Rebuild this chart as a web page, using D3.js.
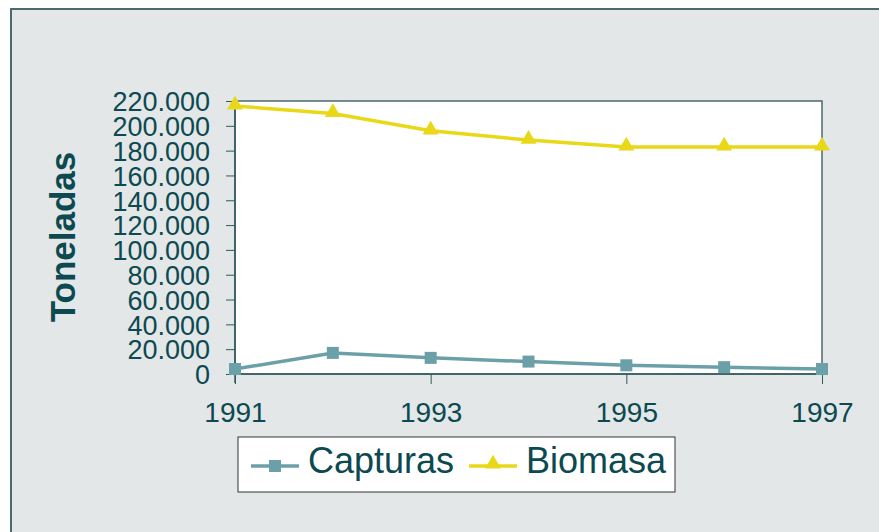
<!DOCTYPE html>
<html>
<head>
<meta charset="utf-8">
<script src="https://cdn.jsdelivr.net/npm/d3@7"></script>
<style>
  body { margin: 0; background: #fff; }
  svg { display: block; font-family: Arial, "Liberation Sans", sans-serif; }
</style>
</head>
<body>
<script>
// data
var years = [1991, 1992, 1993, 1994, 1995, 1996, 1997];
var capturas = [4000, 17000, 13000, 10000, 7000, 5500, 4000];
var biomasa = [216000, 210000, 196000, 188500, 183000, 183000, 183000];
var yTicks = [0, 20000, 40000, 60000, 80000, 100000, 120000, 140000, 160000, 180000, 200000, 220000];
var xLabels = [1991, 1993, 1995, 1997];
var seriesNames = ['Capturas', 'Biomasa'];

var W = 879, H = 532;
var ink = '#0c4950';
var colCapt = '#6ca0a8';
var colBio = '#e8d817';

var svg = d3.select('body').append('svg')
    .attr('width', W)
    .attr('height', H);

// outer frame
svg.append('rect')
    .attr('x', 11).attr('y', 9)
    .attr('width', W + 20).attr('height', H + 20)
    .attr('fill', '#e3e7e8')
    .attr('stroke', '#4b6a6d')
    .attr('stroke-width', 2);

var x = d3.scaleLinear()
    .domain([1991, 1997])
    .range([235, 822]);
var y = d3.scaleLinear()
    .domain([0, 220000])
    .range([374, 101]);

// plot area
svg.append('rect')
    .attr('x', x(1991)).attr('y', y(220000))
    .attr('width', x(1997) - x(1991))
    .attr('height', y(0) - y(220000))
    .attr('fill', '#fff')
    .attr('stroke', '#4b6a6d')
    .attr('stroke-width', 1.5);

var fmt = function(d) { return d3.format(',')(d).replace(/,/g, '.'); };

var yAxis = svg.append('g')
    .attr('transform', 'translate(' + x(1991) + ',0)')
    .call(d3.axisLeft(y).tickValues(yTicks).tickSize(9).tickPadding(16).tickFormat(fmt));
yAxis.select('.domain').attr('stroke', '#2f5a5f').attr('stroke-width', 1.5)
    .attr('d', 'M0,' + y(220000) + 'V' + (y(0) + 9));
yAxis.selectAll('.tick line').attr('stroke', '#2f5a5f');
yAxis.selectAll('.tick text')
    .attr('fill', ink)
    .style('font-size', '27px')
    .attr('dy', '0.36em');

var xAxis = svg.append('g')
    .attr('transform', 'translate(0,' + y(0) + ')')
    .call(d3.axisBottom(x).tickValues(xLabels).tickSize(10).tickPadding(18).tickFormat(d3.format('d')));
xAxis.select('.domain').attr('stroke', '#2f5a5f').attr('stroke-width', 1.5)
    .attr('d', 'M' + x(1991) + ',0H' + x(1997));
xAxis.selectAll('.tick line').attr('stroke', '#2f5a5f');
xAxis.selectAll('.tick text')
    .attr('fill', ink)
    .style('font-size', '28px');

// axis title
svg.append('text')
    .attr('transform', 'translate(75,237) rotate(-90)')
    .attr('text-anchor', 'middle')
    .attr('fill', ink)
    .style('font-size', '35px')
    .style('font-weight', 'bold')
    .text('Toneladas');

var line = d3.line()
    .x(function(d, i) { return x(years[i]); })
    .y(function(d) { return y(d); });

var tri = d3.symbol().type(d3.symbolTriangle).size(110);

// biomasa
svg.append('path')
    .datum(biomasa)
    .attr('fill', 'none')
    .attr('stroke', colBio)
    .attr('stroke-width', 3.5)
    .attr('d', line);
svg.selectAll('.bio')
    .data(biomasa)
    .enter().append('path')
    .attr('class', 'bio')
    .attr('transform', function(d, i) { return 'translate(' + x(years[i]) + ',' + (y(d) - 1) + ')'; })
    .attr('d', tri)
    .attr('fill', colBio);

// capturas
svg.append('path')
    .datum(capturas)
    .attr('fill', 'none')
    .attr('stroke', colCapt)
    .attr('stroke-width', 3.5)
    .attr('d', line);
svg.selectAll('.capt')
    .data(capturas)
    .enter().append('rect')
    .attr('class', 'capt')
    .attr('x', function(d, i) { return x(years[i]) - 6; })
    .attr('y', function(d) { return y(d) - 6; })
    .attr('width', 12).attr('height', 12)
    .attr('fill', colCapt);

// legend
var lg = svg.append('g');
lg.append('rect')
    .attr('x', 238).attr('y', 437)
    .attr('width', 437).attr('height', 55)
    .attr('fill', '#fff')
    .attr('stroke', '#333')
    .attr('stroke-width', 1);

var items = [
    { name: seriesNames[0], color: colCapt, x0: 251, tx: 308 },
    { name: seriesNames[1], color: colBio, x0: 469, tx: 526 }
];
items.forEach(function(it, i) {
    lg.append('line')
        .attr('x1', it.x0).attr('x2', it.x0 + 48)
        .attr('y1', 466).attr('y2', 466)
        .attr('stroke', it.color)
        .attr('stroke-width', 3.5);
    if (i === 0) {
        lg.append('rect')
            .attr('x', it.x0 + 24 - 6).attr('y', 460)
            .attr('width', 12).attr('height', 12)
            .attr('fill', it.color);
    } else {
        lg.append('path')
            .attr('transform', 'translate(' + (it.x0 + 24) + ',464)')
            .attr('d', tri)
            .attr('fill', it.color);
    }
    lg.append('text')
        .attr('x', it.tx).attr('y', 473)
        .attr('fill', ink)
        .style('font-size', '36px')
        .text(it.name);
});
</script>
</body>
</html>
